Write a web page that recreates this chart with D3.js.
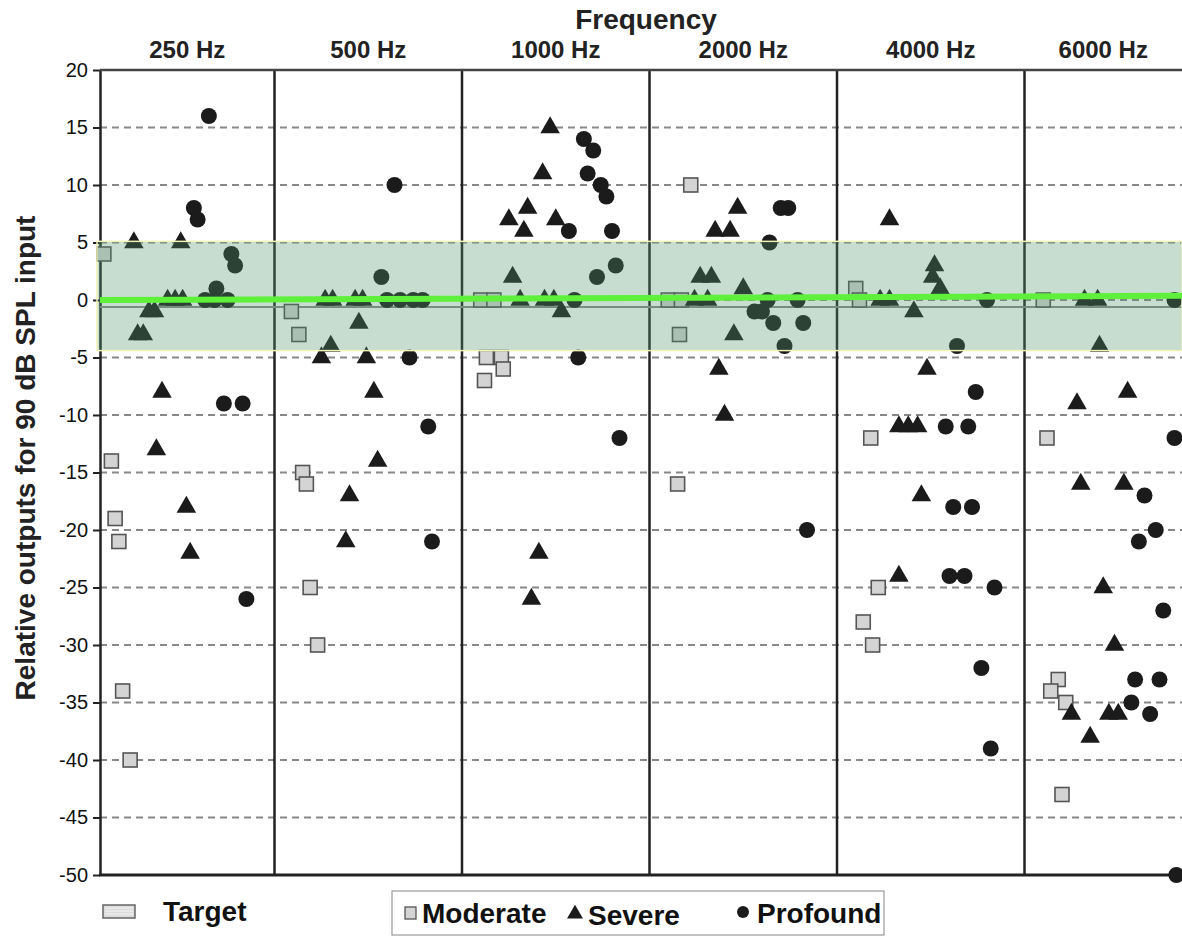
<!DOCTYPE html>
<html>
<head>
<meta charset="utf-8">
<script src="https://cdn.jsdelivr.net/npm/d3@7"></script>
<style>
    body { margin: 0; background: #fff; }
    text { font-family: "Liberation Sans", Arial, sans-serif; }
</style>
</head>
<body>
<div id="chart"></div>
<script>

// frequency panels and y ticks
let freqs = ["250 Hz", "500 Hz", "1000 Hz", "2000 Hz", "4000 Hz", "6000 Hz"];
let yTicks = d3.range(20, -51, -5);

// [frequency, position inside panel (% of panel width), relative output dB]
let moderate = [
    ["250 Hz", 9, 4], ["250 Hz", 13, -14], ["250 Hz", 15, -19], ["250 Hz", 17, -21], ["250 Hz", 19, -34], ["250 Hz", 23, -40],
    ["500 Hz", 9, -1], ["500 Hz", 13, -3], ["500 Hz", 15, -15], ["500 Hz", 17, -16], ["500 Hz", 19, -25], ["500 Hz", 23, -30],
    ["1000 Hz", 10, 0], ["1000 Hz", 17, 0], ["1000 Hz", 13, -5], ["1000 Hz", 21, -5], ["1000 Hz", 22, -6], ["1000 Hz", 12, -7],
    ["2000 Hz", 22, 10], ["2000 Hz", 10, 0], ["2000 Hz", 17, 0], ["2000 Hz", 16, -3], ["2000 Hz", 15, -16],
    ["4000 Hz", 10, 1], ["4000 Hz", 12, 0], ["4000 Hz", 18, -12], ["4000 Hz", 22, -25], ["4000 Hz", 14, -28], ["4000 Hz", 19, -30],
    ["6000 Hz", 10, 0], ["6000 Hz", 12, -12], ["6000 Hz", 18, -33], ["6000 Hz", 14, -34], ["6000 Hz", 22, -35], ["6000 Hz", 20, -43]
];

let severe = [
    ["250 Hz", 25, 5], ["250 Hz", 50, 5], ["250 Hz", 33, -1], ["250 Hz", 36, -1], ["250 Hz", 27, -3], ["250 Hz", 30, -3],
    ["250 Hz", 43, 0], ["250 Hz", 47, 0], ["250 Hz", 51, 0], ["250 Hz", 40, -8], ["250 Hz", 37, -13], ["250 Hz", 53, -18], ["250 Hz", 55, -22],
    ["500 Hz", 27, 0], ["500 Hz", 31, 0], ["500 Hz", 43, 0], ["500 Hz", 47, 0], ["500 Hz", 45, -2], ["500 Hz", 30, -4],
    ["500 Hz", 25, -5], ["500 Hz", 49, -5], ["500 Hz", 53, -8], ["500 Hz", 55, -14], ["500 Hz", 40, -17], ["500 Hz", 38, -21],
    ["1000 Hz", 47, 15], ["1000 Hz", 43, 11], ["1000 Hz", 35, 8], ["1000 Hz", 25, 7], ["1000 Hz", 50, 7], ["1000 Hz", 33, 6],
    ["1000 Hz", 27, 2], ["1000 Hz", 31, 0], ["1000 Hz", 44, 0], ["1000 Hz", 49, 0], ["1000 Hz", 53, -1], ["1000 Hz", 41, -22], ["1000 Hz", 37, -26],
    ["2000 Hz", 47, 8], ["2000 Hz", 35, 6], ["2000 Hz", 43, 6], ["2000 Hz", 27, 2], ["2000 Hz", 33, 2], ["2000 Hz", 50, 1],
    ["2000 Hz", 24, 0], ["2000 Hz", 31, 0], ["2000 Hz", 45, -3], ["2000 Hz", 37, -6], ["2000 Hz", 40, -10],
    ["4000 Hz", 28, 7], ["4000 Hz", 52, 3], ["4000 Hz", 51, 2], ["4000 Hz", 55, 1], ["4000 Hz", 23, 0], ["4000 Hz", 28, 0],
    ["4000 Hz", 41, -1], ["4000 Hz", 48, -6], ["4000 Hz", 33, -11], ["4000 Hz", 38, -11], ["4000 Hz", 43, -11], ["4000 Hz", 45, -17], ["4000 Hz", 33, -24],
    ["6000 Hz", 32, 0], ["6000 Hz", 39, 0], ["6000 Hz", 40, -4], ["6000 Hz", 55, -8], ["6000 Hz", 28, -9], ["6000 Hz", 30, -16],
    ["6000 Hz", 53, -16], ["6000 Hz", 42, -25], ["6000 Hz", 48, -30], ["6000 Hz", 25, -36], ["6000 Hz", 45, -36], ["6000 Hz", 50, -36], ["6000 Hz", 35, -38]
];

let profound = [
    ["250 Hz", 65, 16], ["250 Hz", 57, 8], ["250 Hz", 59, 7], ["250 Hz", 77, 4], ["250 Hz", 79, 3], ["250 Hz", 69, 1],
    ["250 Hz", 63, 0], ["250 Hz", 68, 0], ["250 Hz", 75, 0], ["250 Hz", 73, -9], ["250 Hz", 83, -9], ["250 Hz", 85, -26],
    ["500 Hz", 64, 10], ["500 Hz", 57, 2], ["500 Hz", 60, 0], ["500 Hz", 67, 0], ["500 Hz", 74, 0], ["500 Hz", 79, 0],
    ["500 Hz", 72, -5], ["500 Hz", 82, -11], ["500 Hz", 84, -21],
    ["1000 Hz", 65, 14], ["1000 Hz", 70, 13], ["1000 Hz", 67, 11], ["1000 Hz", 74, 10], ["1000 Hz", 77, 9], ["1000 Hz", 57, 6],
    ["1000 Hz", 80, 6], ["1000 Hz", 82, 3], ["1000 Hz", 72, 2], ["1000 Hz", 60, 0], ["1000 Hz", 62, -5], ["1000 Hz", 84, -12],
    ["2000 Hz", 70, 8], ["2000 Hz", 74, 8], ["2000 Hz", 64, 5], ["2000 Hz", 63, 0], ["2000 Hz", 79, 0], ["2000 Hz", 56, -1],
    ["2000 Hz", 60, -1], ["2000 Hz", 66, -2], ["2000 Hz", 82, -2], ["2000 Hz", 72, -4], ["2000 Hz", 84, -20],
    ["4000 Hz", 80, 0], ["4000 Hz", 64, -4], ["4000 Hz", 74, -8], ["4000 Hz", 58, -11], ["4000 Hz", 70, -11], ["4000 Hz", 62, -18],
    ["4000 Hz", 72, -18], ["4000 Hz", 60, -24], ["4000 Hz", 68, -24], ["4000 Hz", 84, -25], ["4000 Hz", 77, -32], ["4000 Hz", 82, -39],
    ["6000 Hz", 80, 0], ["6000 Hz", 80, -12], ["6000 Hz", 64, -17], ["6000 Hz", 70, -20], ["6000 Hz", 61, -21], ["6000 Hz", 74, -27],
    ["6000 Hz", 59, -33], ["6000 Hz", 72, -33], ["6000 Hz", 57, -35], ["6000 Hz", 67, -36], ["6000 Hz", 81, -50]
];

// target band and lines (dB)
let targetBand = [5.1, -4.4];
let greenLine = [[0, 0], [6, 0.38]];   // [panel position, dB]
let greyLineLevel = -0.6;

let width = 1182, height = 937;
let plotLeft = 100;

let svg = d3.select("#chart").append("svg")
    .attr("width", width)
    .attr("height", height);

// scales
let xBand = d3.scaleBand().domain(freqs).range([87, 1212]).paddingInner(0).paddingOuter(0);
let xPos = d3.scaleLinear().domain([0, freqs.length]).range([87, 1212]);
let y = d3.scaleLinear().domain([-50, 20]).range([875, 70]);

let px = d => xBand(d[0]) + d[1] / 100 * xBand.bandwidth();

// dashed grid
svg.append("g")
    .selectAll("line")
    .data(yTicks.filter(t => t < 20 && t > -50))
    .join("line")
    .attr("x1", plotLeft).attr("x2", width)
    .attr("y1", d => y(d)).attr("y2", d => y(d))
    .attr("stroke", "#888")
    .attr("stroke-width", 2)
    .attr("stroke-dasharray", "7,5");

// panel dividers
svg.append("g")
    .selectAll("line")
    .data(freqs.slice(1))
    .join("line")
    .attr("x1", d => xBand(d)).attr("x2", d => xBand(d))
    .attr("y1", y(20)).attr("y2", y(-50))
    .attr("stroke", "#222")
    .attr("stroke-width", 2.5);

// y axis
let yAxis = svg.append("g")
    .attr("transform", `translate(${plotLeft},0)`)
    .call(d3.axisLeft(y).tickValues(yTicks).tickSize(7).tickSizeOuter(0).tickPadding(5)
        .tickFormat(d => String(d)));
yAxis.select(".domain").attr("stroke", "#222").attr("stroke-width", 2.5);
yAxis.selectAll(".tick line").attr("stroke", "#222").attr("stroke-width", 2);
yAxis.selectAll(".tick text")
    .attr("font-size", "20px")
    .attr("fill", "#111")
    .style("font-family", "'Liberation Sans', Arial, sans-serif");

// top and bottom frame
svg.append("line")
    .attr("x1", plotLeft).attr("x2", width)
    .attr("y1", y(20)).attr("y2", y(20))
    .attr("stroke", "#444").attr("stroke-width", 2.5);
svg.append("line")
    .attr("x1", plotLeft - 1).attr("x2", width)
    .attr("y1", y(-50)).attr("y2", y(-50))
    .attr("stroke", "#222").attr("stroke-width", 3);

// grey reference line
svg.append("line")
    .attr("x1", plotLeft).attr("x2", width)
    .attr("y1", y(greyLineLevel)).attr("y2", y(greyLineLevel))
    .attr("stroke", "#8a8a8a").attr("stroke-width", 2);

// markers
let marks = svg.append("g");

marks.selectAll(".moderate")
    .data(moderate)
    .join("rect")
    .attr("class", "moderate")
    .attr("x", d => px(d) - 7)
    .attr("y", d => y(d[2]) - 7)
    .attr("width", 14).attr("height", 14)
    .attr("fill", "#d4d4d4")
    .attr("stroke", "#555")
    .attr("stroke-width", 1.6);

let tri = d3.symbol().type(d3.symbolTriangle).size(165);
marks.selectAll(".severe")
    .data(severe)
    .join("path")
    .attr("class", "severe")
    .attr("d", tri)
    .attr("transform", d => `translate(${px(d)},${y(d[2])})`)
    .attr("fill", "#1b1b1b");

marks.selectAll(".profound")
    .data(profound)
    .join("circle")
    .attr("class", "profound")
    .attr("cx", d => px(d))
    .attr("cy", d => y(d[2]))
    .attr("r", 8)
    .attr("fill", "#1b1b1b");

// target band (semi transparent, above markers)
svg.append("rect")
    .attr("x", plotLeft - 3)
    .attr("y", y(targetBand[0]))
    .attr("width", width - plotLeft + 3)
    .attr("height", y(targetBand[1]) - y(targetBand[0]))
    .attr("fill", "rgb(80,148,105)")
    .attr("fill-opacity", 0.32)
    .attr("stroke", "#f2f2b8")
    .attr("stroke-width", 1.5);

// green line
svg.append("path")
    .datum(greenLine)
    .attr("d", d3.line().x(d => Math.max(plotLeft, xPos(d[0]))).y(d => y(d[1])))
    .attr("stroke", "#5ef03a")
    .attr("stroke-width", 6)
    .attr("fill", "none");

// titles
svg.append("text")
    .text("Frequency")
    .attr("x", 646).attr("y", 29)
    .attr("text-anchor", "middle")
    .attr("font-size", "28px")
    .attr("font-weight", "bold")
    .attr("fill", "#222");

svg.append("g")
    .selectAll("text")
    .data(freqs)
    .join("text")
    .text(d => d)
    .attr("x", d => {
        let l = Math.max(plotLeft, xBand(d));
        let r = Math.min(width, xBand(d) + xBand.bandwidth());
        return (l + r) / 2;
    })
    .attr("y", 58)
    .attr("text-anchor", "middle")
    .attr("font-size", "24px")
    .attr("font-weight", "bold")
    .attr("fill", "#222");

svg.append("text")
    .text("Relative outputs for 90 dB SPL input")
    .attr("transform", "translate(35, 458) rotate(-90)")
    .attr("text-anchor", "middle")
    .attr("font-size", "28px")
    .attr("font-weight", "bold")
    .attr("fill", "#222");

// legend: target swatch
let tg = svg.append("g");
tg.append("rect")
    .attr("x", 103).attr("y", 905).attr("width", 32).attr("height", 13)
    .attr("fill", "#dcdcdc").attr("stroke", "#666").attr("stroke-width", 1.5);
tg.selectAll(".hatch")
    .data(d3.range(908, 917, 3))
    .join("line")
    .attr("x1", 105).attr("x2", 133)
    .attr("y1", d => d).attr("y2", d => d)
    .attr("stroke", "#f5f5f5").attr("stroke-width", 1);
tg.append("text")
    .text("Target")
    .attr("x", 163).attr("y", 921)
    .attr("font-size", "28px")
    .attr("font-weight", "bold")
    .attr("fill", "#111");

// legend: groups
let lg = svg.append("g");
lg.append("rect")
    .attr("x", 392).attr("y", 891).attr("width", 492).attr("height", 44)
    .attr("fill", "#fff").attr("stroke", "#999").attr("stroke-width", 1.2);
lg.append("rect")
    .attr("x", 405).attr("y", 907).attr("width", 11).attr("height", 12)
    .attr("fill", "#d4d4d4").attr("stroke", "#555").attr("stroke-width", 1.3);
lg.append("text").text("Moderate")
    .attr("x", 422).attr("y", 923)
    .attr("font-size", "28px").attr("font-weight", "bold").attr("fill", "#111");
lg.append("path")
    .attr("d", d3.symbol().type(d3.symbolTriangle).size(110)())
    .attr("transform", "translate(575,914)")
    .attr("fill", "#1b1b1b");
lg.append("text").text("Severe")
    .attr("x", 588).attr("y", 925)
    .attr("font-size", "28px").attr("font-weight", "bold").attr("fill", "#111");
lg.append("circle")
    .attr("cx", 743).attr("cy", 912).attr("r", 6)
    .attr("fill", "#1b1b1b");
lg.append("text").text("Profound")
    .attr("x", 757).attr("y", 923)
    .attr("font-size", "28px").attr("font-weight", "bold").attr("fill", "#111");

</script>
</body>
</html>
